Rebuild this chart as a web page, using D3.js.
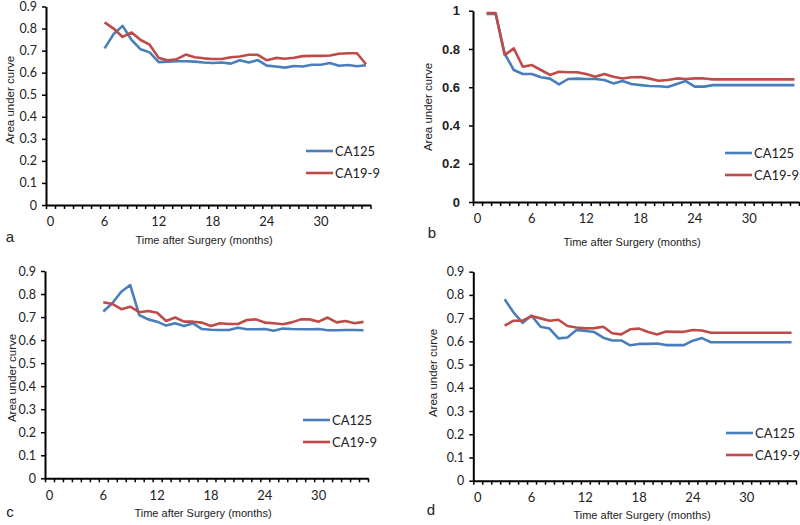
<!DOCTYPE html>
<html><head><meta charset="utf-8">
<script src="https://cdn.jsdelivr.net/npm/d3@7"></script>
<style>body{margin:0;background:#fff}</style></head>
<body><svg id="chart" width="800" height="525"></svg>
<script>
// ---- data ----
const seriesNames = ["CA125", "CA19-9"];
const xTickLabels = [0, 6, 12, 18, 24, 30];
const yTicks09 = [0, 0.1, 0.2, 0.3, 0.4, 0.5, 0.6, 0.7, 0.8, 0.9];
const yTicks10 = [0, 0.2, 0.4, 0.6, 0.8, 1];

const startA = 6;
const aCA125 = [0.71,0.775,0.812,0.748,0.706,0.692,0.648,0.65,0.652,0.652,0.65,0.646,0.644,0.646,0.641,0.656,0.646,0.657,0.632,0.628,0.623,0.63,0.628,0.636,0.636,0.644,0.631,0.635,0.629,0.634];
const aCA199 = [0.828,0.80,0.762,0.782,0.748,0.727,0.667,0.656,0.661,0.682,0.67,0.665,0.662,0.662,0.67,0.673,0.681,0.681,0.656,0.667,0.663,0.668,0.675,0.676,0.676,0.678,0.686,0.688,0.688,0.638];

const startB = 1;
const bCA125 = [0.983,0.983,0.775,0.69,0.669,0.669,0.652,0.645,0.615,0.643,0.645,0.643,0.643,0.638,0.62,0.632,0.617,0.611,0.606,0.605,0.601,0.617,0.632,0.603,0.603,0.611,0.611,0.611,0.611,0.611,0.611,0.611,0.611,0.611,0.611];
const bCA199 = [0.988,0.988,0.768,0.803,0.707,0.716,0.69,0.664,0.681,0.678,0.678,0.669,0.655,0.669,0.655,0.646,0.652,0.653,0.645,0.634,0.638,0.646,0.643,0.646,0.646,0.641,0.641,0.641,0.641,0.641,0.641,0.641,0.641,0.641,0.641];

const startC = 6;
const cCA125 = [0.724,0.76,0.81,0.839,0.709,0.69,0.68,0.663,0.673,0.661,0.673,0.648,0.645,0.644,0.644,0.654,0.647,0.647,0.648,0.641,0.65,0.648,0.647,0.647,0.648,0.643,0.643,0.644,0.644,0.643];
const cCA199 = [0.764,0.757,0.734,0.745,0.721,0.726,0.719,0.683,0.698,0.68,0.68,0.676,0.661,0.673,0.67,0.67,0.687,0.69,0.676,0.673,0.669,0.677,0.69,0.69,0.68,0.698,0.677,0.683,0.673,0.679];

const startD = 3;
const dCA125 = [0.781,0.724,0.68,0.711,0.663,0.655,0.613,0.617,0.649,0.645,0.64,0.616,0.604,0.604,0.583,0.589,0.589,0.591,0.584,0.584,0.584,0.603,0.614,0.596,0.596,0.596,0.596,0.596,0.596,0.596,0.596,0.596,0.596];
const dCA199 = [0.668,0.689,0.689,0.709,0.699,0.689,0.693,0.666,0.66,0.656,0.657,0.663,0.635,0.63,0.652,0.655,0.64,0.63,0.642,0.641,0.641,0.649,0.647,0.637,0.637,0.637,0.637,0.637,0.637,0.637,0.637,0.637,0.637];

// ---- layout ----
const colors = ["#4a7ebb", "#be4b48"];
const nCat = 36;
const panels = [
  {letter:"a", start:startA, s:[aCA125,aCA199], yTicks:yTicks09, yMax:0.9, left:46, right:370.5, top:6.5, bottom:205, bold:false,
   letterPos:[10,242], xt:[204,244], yt:[10,100], leg:[306,151]},
  {letter:"b", start:startB, s:[bCA125,bCA199], yTicks:yTicks10, yMax:1, left:473, right:799, top:10.7, bottom:202, bold:true,
   letterPos:[432,238], xt:[632,246], yt:[428,107], leg:[725,153]},
  {letter:"c", start:startC, s:[cCA125,cCA199], yTicks:yTicks09, yMax:0.9, left:45, right:368, top:271, bottom:478.3, bold:false,
   letterPos:[10,517], xt:[203,517], yt:[12,378], leg:[303,420]},
  {letter:"d", start:startD, s:[dCA125,dCA199], yTicks:yTicks09, yMax:0.9, left:473.3, right:796, top:271.7, bottom:480.7, bold:false,
   letterPos:[431,515], xt:[642,519], yt:[433,373], leg:[726,433]}
];

const svg = d3.select("#chart");

panels.forEach(p => {
  const g = svg.append("g");
  const x = d3.scaleBand().domain(d3.range(nCat)).range([p.left, p.right]).padding(0);
  const xl = d3.scaleLinear().domain([0, nCat]).range([p.left, p.right]);
  const y = d3.scaleLinear().domain([0, p.yMax]).range([p.bottom, p.top]);

  // minor ticks at category boundaries
  const gx = g.append("g").attr("transform", `translate(0,${p.bottom})`)
    .call(d3.axisBottom(xl).tickValues(d3.range(nCat + 1)).tickSize(4).tickFormat("").tickSizeOuter(0));
  gx.select(".domain").attr("stroke", "#000").attr("stroke-width", 2);
  gx.selectAll(".tick line").attr("stroke", "#000").attr("stroke-width", 1.5);

  // labels
  const gxl = g.append("g").attr("transform", `translate(0,${p.bottom})`)
    .call(d3.axisBottom(x).tickValues(xTickLabels).tickSize(0).tickPadding(12));
  gxl.select(".domain").remove();
  gxl.selectAll("text").attr("font-family", "Lato, 'Open Sans', sans-serif").attr("font-size", 13).attr("fill", "#222");

  // y axis
  const gy = g.append("g").attr("transform", `translate(${p.left},0)`)
    .call(d3.axisLeft(y).tickValues(p.yTicks).tickSize(4).tickSizeOuter(0).tickPadding(p.bold ? 9 : 5)
      .tickFormat(d => d3.format("")(+d.toFixed(1))));
  gy.select(".domain").attr("stroke", "#000").attr("stroke-width", 2);
  gy.selectAll(".tick line").attr("stroke", "#000").attr("stroke-width", 1.5);
  gy.selectAll("text")
    .attr("font-family", p.bold ? "'Liberation Sans', Arial, sans-serif" : "Lato, 'Open Sans', sans-serif")
    .attr("font-weight", p.bold ? "bold" : "normal")
    .attr("font-size", p.bold ? 13 : 12.5).attr("fill", "#222");

  // lines
  const line = d3.line().x(d => x(d.m) + x.bandwidth() / 2).y(d => y(d.v));
  p.s.forEach((vals, k) => {
    const data = vals.map((v, i) => ({m: p.start + i, v}));
    g.append("path").datum(data).attr("d", line).attr("fill", "none")
      .attr("stroke", colors[k]).attr("stroke-width", 2.6).attr("stroke-linejoin", "round");
  });

  // legend
  seriesNames.forEach((n, k) => {
    const ly = p.leg[1] + k * 22;
    g.append("line").attr("x1", p.leg[0]).attr("x2", p.leg[0] + 27).attr("y1", ly).attr("y2", ly)
      .attr("stroke", colors[k]).attr("stroke-width", 2.6);
    g.append("text").attr("x", p.leg[0] + 29).attr("y", ly + 4.5).text(n)
      .attr("font-family", "Lato, 'Open Sans', sans-serif").attr("font-size", 13).attr("fill", "#222");
  });

  // titles
  g.append("text").attr("x", p.xt[0]).attr("y", p.xt[1]).attr("text-anchor", "middle")
    .attr("font-family", "'Liberation Sans', Arial, sans-serif").attr("font-size", 11).attr("fill", "#222")
    .text("Time after Surgery (months)");
  g.append("text").attr("transform", `translate(${p.yt[0] + 4},${p.yt[1]}) rotate(-90)`).attr("text-anchor", "middle")
    .attr("font-family", "'Liberation Sans', Arial, sans-serif").attr("font-size", 11.5).attr("fill", "#222")
    .text("Area under curve");
  g.append("text").attr("x", p.letterPos[0]).attr("y", p.letterPos[1]).attr("text-anchor", "middle")
    .attr("font-family", "'Liberation Sans', Arial, sans-serif").attr("font-size", 15).attr("fill", "#222")
    .text(p.letter);
});
</script>
</body></html>
